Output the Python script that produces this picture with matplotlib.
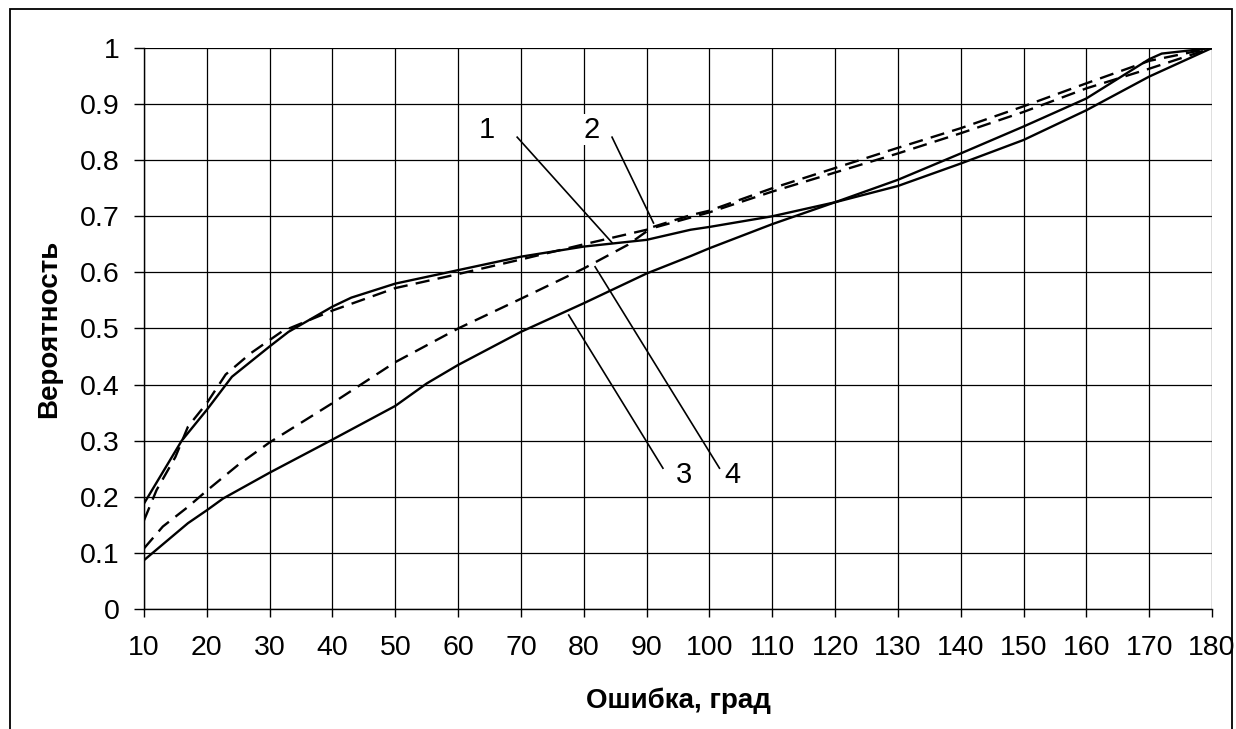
import matplotlib.pyplot as plt
from matplotlib.patches import Rectangle

plt.rcParams['font.family'] = ['Liberation Sans', 'DejaVu Sans']

# curve 1 (solid, upper at small errors)
x1 = [10, 16, 20, 24, 30, 33, 40, 43, 50, 60, 70, 80, 85, 90, 97, 100, 110, 120, 130, 140, 150, 160, 170, 180]
y1 = [0.188, 0.300, 0.355, 0.414, 0.468, 0.494, 0.539, 0.555, 0.580, 0.604, 0.628, 0.646, 0.652, 0.658,
      0.676, 0.681, 0.700, 0.725, 0.754, 0.794, 0.836, 0.889, 0.949, 1.0]

# curve 2 (dashed, upper)
x2 = [10, 12, 15, 17, 20, 23, 27, 32, 40, 50, 60, 70, 80, 90, 100, 110, 120, 130, 140, 150, 160, 170, 180]
y2 = [0.158, 0.212, 0.271, 0.325, 0.367, 0.418, 0.456, 0.495, 0.532, 0.572, 0.597, 0.623, 0.650, 0.676,
      0.707, 0.744, 0.778, 0.812, 0.848, 0.886, 0.928, 0.963, 1.0]

# curve 3 (solid, lower)
x3 = [10, 17, 20, 22.6, 30, 40, 50, 55, 60, 70, 80, 90, 97, 100, 110, 120, 130, 140, 150, 160, 170, 172, 180]
y3 = [0.087, 0.153, 0.176, 0.197, 0.243, 0.302, 0.362, 0.402, 0.435, 0.494, 0.545, 0.598, 0.629, 0.643,
      0.686, 0.725, 0.765, 0.812, 0.860, 0.910, 0.980, 0.990, 1.0]

# curve 4 (dashed, lower)
x4 = [10, 13, 17, 20, 25, 30, 40, 50, 60, 70, 80, 87, 91, 97, 100, 110, 120, 130, 140, 150, 160, 170, 180]
y4 = [0.108, 0.147, 0.182, 0.211, 0.257, 0.297, 0.367, 0.440, 0.500, 0.553, 0.607, 0.649, 0.681, 0.702,
      0.710, 0.750, 0.786, 0.822, 0.857, 0.896, 0.937, 0.977, 1.0]

xticks = list(range(10, 181, 10))
yticks = [0, 0.1, 0.2, 0.3, 0.4, 0.5, 0.6, 0.7, 0.8, 0.9, 1]
ytick_labels = ['0', '0.1', '0.2', '0.3', '0.4', '0.5', '0.6', '0.7', '0.8', '0.9', '1']

fig = plt.figure(figsize=(12.36, 7.29), dpi=100)
ax = fig.add_axes([0.1165, 0.1646, 0.8641, 0.7696])

lw = 1.7
dash = (0, (6, 3.5))
ax.plot(x1, y1, color='black', lw=lw, zorder=3)
ax.plot(x2, y2, color='black', lw=lw, linestyle=dash, zorder=3)
ax.plot(x3, y3, color='black', lw=lw, zorder=3)
ax.plot(x4, y4, color='black', lw=lw, linestyle=dash, zorder=3)

ax.set_xlim(10, 180)
ax.set_ylim(0, 1)
ax.set_xticks(xticks)
ax.set_yticks(yticks)
ax.set_yticklabels(ytick_labels)
ax.grid(True, color='black', lw=0.9)
ax.set_axisbelow(True)
for s in ['top', 'right']:
    ax.spines[s].set_visible(False)
for s in ['left', 'bottom']:
    ax.spines[s].set_linewidth(1.0)
ax.tick_params(axis='y', direction='out', length=7.5, width=1, pad=10, labelsize=20.5)
ax.tick_params(axis='x', direction='out', length=6, width=1, pad=13, labelsize=20.5)

ax.set_xlabel('Ошибка, град', fontsize=20, fontweight='bold', labelpad=19)
ax.set_ylabel('Вероятность', fontsize=20, fontweight='bold', labelpad=13)

# curve labels with leader lines
ann_lw = 1.2
ax.plot([69.4, 84.5], [0.841, 0.653], color='black', lw=ann_lw, zorder=4)
ax.plot([84.5, 91.1], [0.841, 0.688], color='black', lw=ann_lw, zorder=4)
ax.plot([77.6, 92.6], [0.524, 0.251], color='black', lw=ann_lw, zorder=4)
ax.plot([81.8, 101.6], [0.610, 0.251], color='black', lw=ann_lw, zorder=4)
for txt, tx, ty in [('1', 64.6, 0.854), ('2', 81.3, 0.854), ('3', 96.0, 0.239), ('4', 103.7, 0.239)]:
    ax.text(tx, ty, txt, fontsize=21, ha='center', va='center', zorder=5,
            bbox=dict(facecolor='white', edgecolor='none', pad=1))

# outer chart frame (bottom edge is cut off in the original)
fig.patches.append(Rectangle((10 / 1236, -0.05), 1222 / 1236, 1 - 9 / 729 + 0.05,
                             transform=fig.transFigure, fill=False, edgecolor='black', lw=1.3))

fig.savefig('out.png', dpi=100)
